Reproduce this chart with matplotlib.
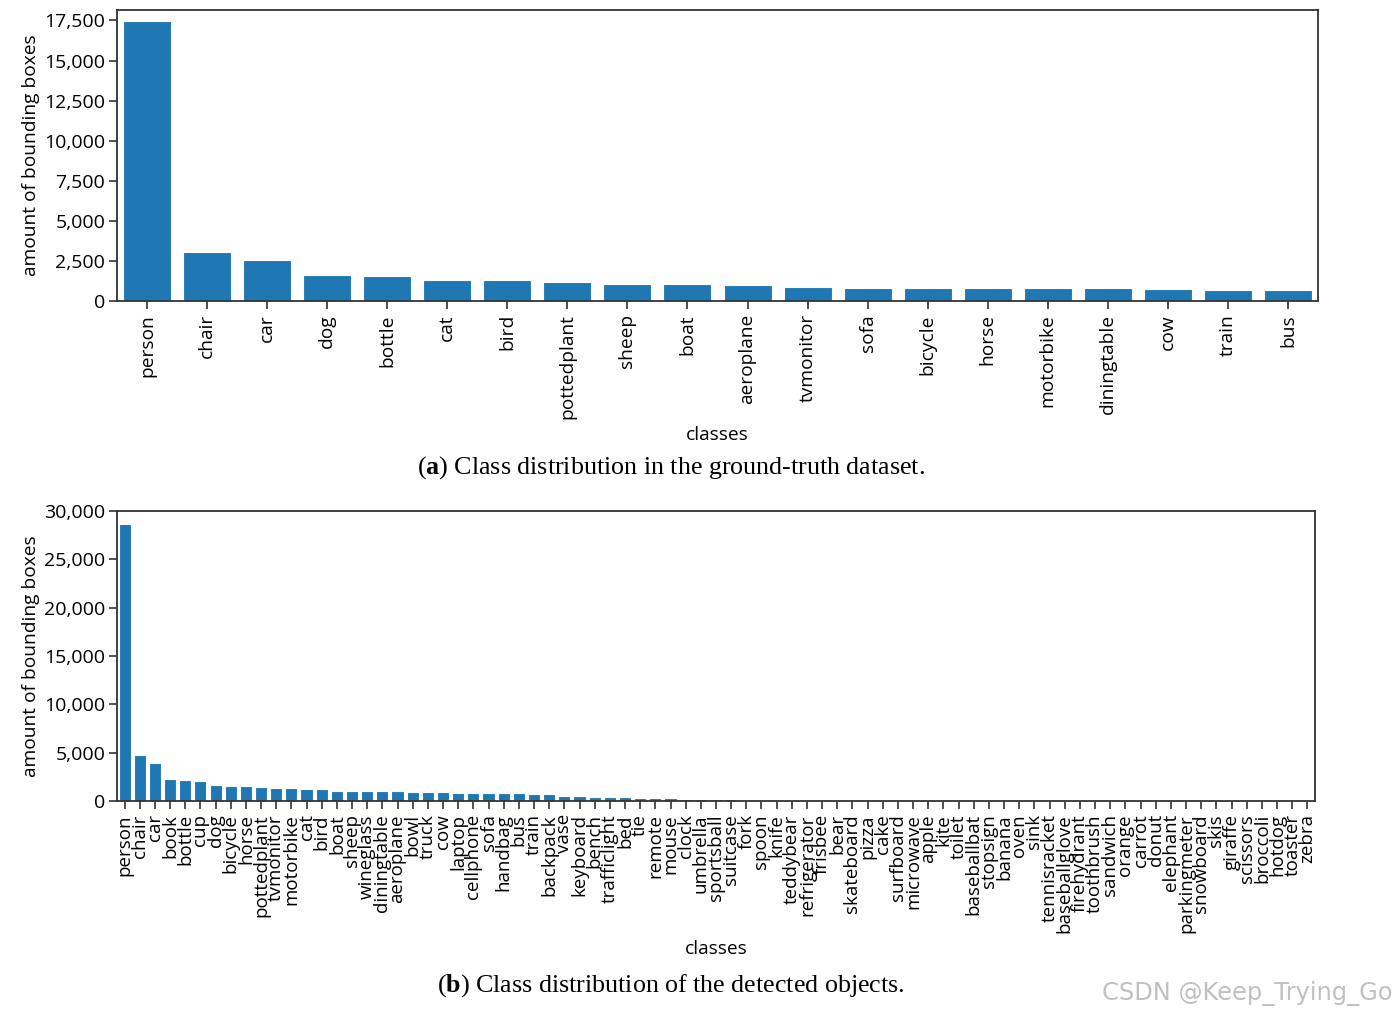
import matplotlib
matplotlib.use("Agg")
import matplotlib.pyplot as plt
from matplotlib.ticker import FuncFormatter

plt.rcParams["font.family"] = ["Open Sans", "DejaVu Sans"]
plt.rcParams["mathtext.fontset"] = "custom"
plt.rcParams["mathtext.rm"] = "Liberation Serif"
plt.rcParams["mathtext.bf"] = "Liberation Serif:bold"

# (a) ground-truth dataset
gt_classes = ["person", "chair", "car", "dog", "bottle", "cat", "bird", "pottedplant",
              "sheep", "boat", "aeroplane", "tvmonitor", "sofa", "bicycle", "horse",
              "motorbike", "diningtable", "cow", "train", "bus"]
gt_counts = [17460, 3030, 2530, 1630, 1570, 1280, 1280, 1215, 1090, 1090, 1025,
             900, 840, 840, 840, 840, 840, 775, 715, 715]

# (b) detected objects
det_classes = ["person", "chair", "car", "book", "bottle", "cup", "dog", "bicycle", "horse",
               "pottedplant", "tvmonitor", "motorbike", "cat", "bird", "boat", "sheep",
               "wineglass", "diningtable", "aeroplane", "bowl", "truck", "cow", "laptop",
               "cellphone", "sofa", "handbag", "bus", "train", "backpack", "vase",
               "keyboard", "bench", "trafficlight", "bed", "tie", "remote", "mouse",
               "clock", "umbrella", "sportsball", "suitcase", "fork", "spoon", "knife",
               "teddybear", "refrigerator", "frisbee", "bear", "skateboard", "pizza",
               "cake", "surfboard", "microwave", "apple", "kite", "toilet", "baseballbat",
               "stopsign", "banana", "oven", "sink", "tennisracket", "baseballglove",
               "firehydrant", "toothbrush", "sandwich", "orange", "carrot", "donut",
               "elephant", "parkingmeter", "snowboard", "skis", "giraffe", "scissors",
               "broccoli", "hotdog", "toaster", "zebra"]
det_counts = [28650, 4760, 3900, 2300, 2170, 2070, 1650, 1550, 1550,
              1450, 1340, 1340, 1200, 1200, 1000, 1000,
              1000, 1000, 1000, 900, 900, 900, 800,
              800, 800, 800, 800, 720, 690, 550,
              550, 450, 450, 450, 350, 350, 350,
              250, 250, 250, 250, 150, 150, 150,
              150, 150, 150, 150, 150, 150,
              150, 150, 140, 40, 35, 30, 28,
              25, 22, 20, 18, 16, 15,
              14, 12, 11, 10, 9, 8,
              7, 6, 6, 5, 5, 4,
              4, 3, 3, 2]

BAR_COLOR = "#1f77b4"
SPINE = "#333333"
comma = FuncFormatter(lambda v, p: f"{int(v):,}")

fig = plt.figure(figsize=(13.97, 10.15), dpi=100)


def draw_bars(ax, classes, counts, ymax, step, xsize):
    x = range(len(classes))
    ax.bar(x, counts, width=0.8, color=BAR_COLOR, edgecolor="white", linewidth=0.8)
    ax.set_xlim(-0.5, len(classes) - 0.5)
    ax.set_ylim(0, ymax)
    ax.set_yticks(range(0, ymax + 1, step))
    ax.yaxis.set_major_formatter(comma)
    ax.set_xticks(list(x))
    ax.set_xticklabels(classes, rotation=90)
    ax.tick_params(axis="both", color=SPINE, length=6, width=1.2)
    ax.tick_params(axis="y", labelsize=14, pad=2.5)
    ax.tick_params(axis="x", labelsize=xsize)
    for s in ax.spines.values():
        s.set_color(SPINE)
        s.set_linewidth(1.3)
    ax.set_ylabel("amount of bounding boxes", fontsize=13.8)
    ax.yaxis.set_label_coords(-77 / 1200, 0.5)
    ax.set_xlabel("classes", fontsize=13.8, labelpad=5)


ax1 = fig.add_axes([117 / 1397, 1 - 301 / 1015, (1318 - 117) / 1397, (301 - 10) / 1015])
draw_bars(ax1, gt_classes, gt_counts, 17500, 2500, 13.8)
ax1.set_ylim(0, 18150)

ax2 = fig.add_axes([117 / 1397, 1 - 801 / 1015, (1315 - 117) / 1397, (801 - 511) / 1015])
draw_bars(ax2, det_classes, det_counts, 30000, 5000, 13.5)

fig.text(671 / 1397, 1 - 468 / 1015, r"($\mathbf{a}$) Class distribution in the ground-truth dataset.",
         ha="center", va="center", fontsize=18.7, family="Liberation Serif")
fig.text(671 / 1397, 1 - 986 / 1015, r"($\mathbf{b}$) Class distribution of the detected objects.",
         ha="center", va="center", fontsize=18.7, family="Liberation Serif")
fig.text(1393 / 1397, 1 - 993 / 1015, "CSDN @Keep_Trying_Go", ha="right", va="center",
         fontsize=17.4, color="#c0c0c0", family="DejaVu Sans")

fig.savefig("out.png", dpi=100)
